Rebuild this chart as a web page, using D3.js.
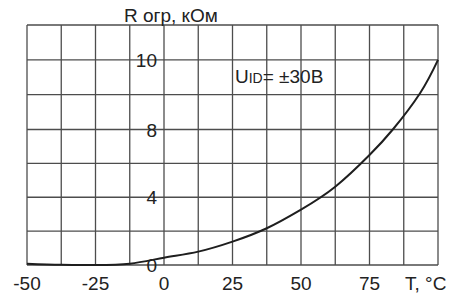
<!DOCTYPE html>
<html><head><meta charset="utf-8">
<script src="https://cdn.jsdelivr.net/npm/d3@7"></script>
<style>
body{margin:0;background:#fff;}
text{font-family:"Liberation Sans",Arial,sans-serif;fill:#222;}
</style></head>
<body><svg id="c" width="458" height="298"></svg>
<script>
// Temperature (°C) and limiting resistance R огр (kΩ)
const temps = [-50, -37.5, -25, -12.5, 0, 12.5, 25, 37.5, 50, 62.5, 75, 83.5, 93.5, 100];
const rValues = [0.08, 0.01, 0.0, 0.08, 0.43, 0.79, 1.38, 2.17, 3.27, 4.62, 6.49, 8.0, 9.05, 10];
// Grid lines
const xGrid = [-50, -37.5, -25, -12.5, 0, 12.5, 25, 37.5, 50, 62.5, 75, 87.5, 100];
const yGrid = [0, 2, 4, 6, 8, 9, 10, 11];
// Tick labels as printed
const xTicks = [-50, -25, 0, 25, 50, 75];
const yTicks = [0, 4, 8, 10];
const xTitle = "T, °C";
const yTitle = "R огр, кОм";

const svg = d3.select("#c");
const x = d3.scaleLinear().domain([-50, 100]).range([27, 438]);
// printed y labels are not evenly spaced: 0..8 uses 2 kΩ per cell, above 8 uses 1 kΩ per cell
const y = d3.scaleLinear().domain([0, 8, 11]).range([265, 129.5, 25]);

const g = svg.append("g");
g.selectAll("line.v").data(xGrid).join("line").attr("class","v")
  .attr("x1", d=>x(d)).attr("x2", d=>x(d)).attr("y1", y(11)).attr("y2", y(0))
  .attr("stroke", "#4d4d4d").attr("stroke-width", 1.3);
g.selectAll("line.h").data(yGrid).join("line").attr("class","h")
  .attr("x1", x(-50)).attr("x2", x(100)).attr("y1", d=>y(d)).attr("y2", d=>y(d))
  .attr("stroke", "#4d4d4d").attr("stroke-width", 1.3);

// curve
const line = d3.line().x((d,i)=>x(temps[i])).y(d=>y(d)).curve(d3.curveNatural);
svg.append("path").attr("d", line(rValues)).attr("fill","none")
  .attr("stroke","#1e1e1e").attr("stroke-width",2);

// x tick labels
svg.selectAll("text.xt").data(xTicks).join("text").attr("class","xt")
  .attr("x", d=>x(d)).attr("y", 290).attr("text-anchor","middle")
  .attr("font-size", 19).text(d=>d);
svg.append("text").attr("x", 405).attr("y", 290).attr("font-size", 19).text(xTitle);

// y tick labels (placed left of the T=0 line)
svg.selectAll("text.yt").data(yTicks).join("text").attr("class","yt")
  .attr("x", x(0) - 7).attr("y", d=>y(d) + 7).attr("text-anchor","end")
  .attr("font-size", 19).text(d=>d);
svg.append("text").attr("x", 124).attr("y", 22).attr("font-size", 19).text(yTitle);

// annotation
const ann = svg.append("text").attr("x", 235).attr("y", 83).attr("font-size", 19);
ann.append("tspan").text("U");
ann.append("tspan").attr("font-size", 14).text("ID");
ann.append("tspan").text("= ±30B");
</script></body></html>
